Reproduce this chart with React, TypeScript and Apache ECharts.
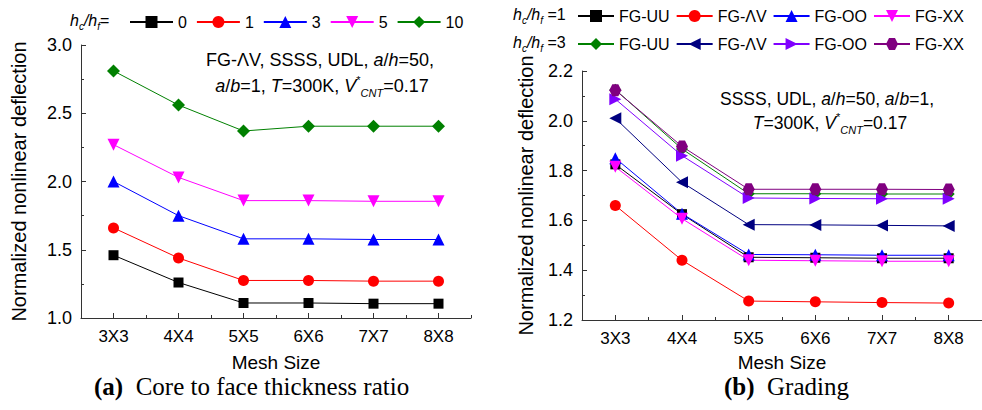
import React, { useEffect, useRef } from "react";
import * as echarts from "echarts";

const categories = ["3X3", "4X4", "5X5", "6X6", "7X7", "8X8"];

// (a) core to face thickness ratio hc/hf
const ratioLabels = ["0", "1", "3", "5", "10"];
const ratio0 = [1.46, 1.26, 1.11, 1.11, 1.105, 1.105];
const ratio1 = [1.66, 1.44, 1.275, 1.275, 1.27, 1.27];
const ratio3 = [2.0, 1.75, 1.58, 1.58, 1.575, 1.575];
const ratio5 = [2.27, 2.03, 1.86, 1.86, 1.855, 1.855];
const ratio10 = [2.81, 2.56, 2.37, 2.405, 2.405, 2.405];

// (b) grading
const gradingLabels = ["FG-UU", "FG-\u039BV", "FG-OO", "FG-XX"];
const hc1UU = [1.825, 1.625, 1.452, 1.45, 1.448, 1.448];
const hc1AV = [1.66, 1.44, 1.276, 1.273, 1.27, 1.268];
const hc1OO = [1.85, 1.627, 1.463, 1.462, 1.46, 1.46];
const hc1XX = [1.815, 1.607, 1.44, 1.438, 1.436, 1.436];
const hc3UU = [2.125, 1.887, 1.707, 1.707, 1.706, 1.706];
const hc3AV = [2.01, 1.753, 1.583, 1.582, 1.58, 1.578];
const hc3OO = [2.087, 1.86, 1.69, 1.688, 1.687, 1.687];
const hc3XX = [2.123, 1.897, 1.725, 1.725, 1.725, 1.724];

const SANS = "Liberation Sans, Arial, sans-serif";
const SERIF = "Liberation Serif, Times New Roman, serif";
const HEX = "path://M-1,0 L-0.5,-0.866 L0.5,-0.866 L1,0 L0.5,0.866 L-0.5,0.866 Z";

type Sty = { color: string; symbol: string; size: number; rotate?: number };

const leftStyles: Sty[] = [
  { color: "#000000", symbol: "rect", size: 10 },
  { color: "#FF0000", symbol: "circle", size: 11 },
  { color: "#0000FF", symbol: "triangle", size: 12 },
  { color: "#FF00FF", symbol: "triangle", size: 12, rotate: 180 },
  { color: "#008000", symbol: "diamond", size: 13 },
];
const hc1Styles: Sty[] = [
  { color: "#000000", symbol: "rect", size: 10 },
  { color: "#FF0000", symbol: "circle", size: 11 },
  { color: "#0000FF", symbol: "triangle", size: 12 },
  { color: "#FF00FF", symbol: "triangle", size: 12, rotate: 180 },
];
const hc3Styles: Sty[] = [
  { color: "#008000", symbol: "diamond", size: 12 },
  { color: "#000080", symbol: "triangle", size: 12, rotate: 90 },
  { color: "#8000FF", symbol: "triangle", size: 12, rotate: -90 },
  { color: "#800080", symbol: HEX, size: 12 },
];

function mkSeries(name: string, data: number[], s: Sty, gi: number) {
  return {
    name,
    type: "line",
    xAxisIndex: gi * 2,
    yAxisIndex: gi,
    data,
    symbol: s.symbol,
    symbolSize: s.size,
    symbolRotate: s.rotate || 0,
    lineStyle: { color: s.color, width: 1 },
    itemStyle: { color: s.color },
    emphasis: { disabled: true },
  };
}

const subRich = {
  i: { fontStyle: "italic", fontSize: 16, fontFamily: SANS, lineHeight: 22, verticalAlign: "middle", fill: "#000" },
  n: { fontSize: 16, fontFamily: SANS, lineHeight: 22, verticalAlign: "middle", fill: "#000" },
  s: { fontStyle: "italic", fontSize: 10, fontFamily: SANS, lineHeight: 10, verticalAlign: "bottom", fill: "#000" },
};

const annRich = (fs: number) => ({
  n: { fontSize: fs, fontFamily: SANS, lineHeight: 24, verticalAlign: "middle", fill: "#000" },
  i: { fontSize: fs, fontFamily: SANS, fontStyle: "italic", lineHeight: 24, verticalAlign: "middle", fill: "#000" },
  sup: { fontSize: 11, fontFamily: SANS, lineHeight: 11, verticalAlign: "top", fill: "#000" },
  sub: { fontSize: 11, fontFamily: SANS, fontStyle: "italic", lineHeight: 11, verticalAlign: "bottom", fill: "#000" },
});

export default function App() {
  const ref = useRef<HTMLDivElement>(null);
  useEffect(() => {
    if (!ref.current) return;
    const chart = echarts.init(ref.current, null, { renderer: "svg" });
    const axisColor = "#333333";
    const xMain = (gi: number, nameGap: number) => ({
      gridIndex: gi,
      type: "category",
      data: categories,
      boundaryGap: true,
      position: "bottom",
      axisLine: { show: true, onZero: false, lineStyle: { color: axisColor, width: 1 } },
      axisTick: { show: true, inside: true, alignWithLabel: true, interval: 0, length: 5, lineStyle: { color: axisColor } },
      axisLabel: { interval: 0, fontSize: 17, color: "#000", fontFamily: SANS, margin: 10 },
      splitLine: { show: false },
      name: "Mesh Size",
      nameLocation: "middle",
      nameGap,
      nameTextStyle: { fontSize: 19, color: "#000", fontFamily: SANS },
    });
    const xMinor = (gi: number) => ({
      gridIndex: gi,
      type: "category",
      data: categories,
      boundaryGap: true,
      position: "bottom",
      axisLine: { show: false, onZero: false },
      axisTick: { show: true, inside: true, alignWithLabel: false, interval: 0, length: 3, lineStyle: { color: axisColor } },
      axisLabel: { show: false },
      splitLine: { show: false },
    });
    const yAx = (gi: number, min: number, max: number, interval: number, nameGap: number) => ({
      gridIndex: gi,
      type: "value",
      min,
      max,
      interval,
      axisLine: { show: true, lineStyle: { color: axisColor, width: 1 } },
      axisTick: { show: true, inside: true, length: 5, lineStyle: { color: axisColor } },
      minorTick: { show: true, splitNumber: 2, length: 3, lineStyle: { color: axisColor } },
      splitLine: { show: false },
      axisLabel: { fontSize: 18, color: "#000", fontFamily: SANS, margin: 9, formatter: (v: number) => v.toFixed(1) },
      name: "Normalized nonlinear deflection",
      nameLocation: "middle",
      nameGap,
      nameTextStyle: { fontSize: 20, color: "#000", fontFamily: SANS },
    });

    const leftData = [ratio0, ratio1, ratio3, ratio5, ratio10];
    const hc1Data = [hc1UU, hc1AV, hc1OO, hc1XX];
    const hc3Data = [hc3UU, hc3AV, hc3OO, hc3XX];

    const series: any[] = [];
    leftData.forEach((d, k) => series.push(mkSeries("a|" + ratioLabels[k], d, leftStyles[k], 0)));
    hc1Data.forEach((d, k) => series.push(mkSeries("b1|" + gradingLabels[k], d, hc1Styles[k], 1)));
    hc3Data.forEach((d, k) => series.push(mkSeries("b3|" + gradingLabels[k], d, hc3Styles[k], 1)));

    const legendBase = {
      orient: "horizontal",
      selectedMode: false,
      itemHeight: 15,
      formatter: (n: string) => n.split("|")[1],
      textStyle: { fontSize: 16, color: "#000", fontFamily: SANS },
    };

    chart.setOption({
      animation: false,
      backgroundColor: "#ffffff",
      grid: [
        { left: 81, top: 45, width: 390, height: 273 },
        { left: 582, top: 71, width: 409, height: 249 },
      ],
      xAxis: [xMain(0, 35), xMinor(0), xMain(1, 33), xMinor(1)],
      yAxis: [yAx(0, 1, 3, 0.5, 52), yAx(1, 1.2, 2.2, 0.2, 46)],
      legend: [
        { ...legendBase, data: ratioLabels.map((l) => "a|" + l), left: 124, top: 9, itemWidth: 43, itemGap: 9 },
        { ...legendBase, data: gradingLabels.map((l) => "b1|" + l), left: 572, top: 3, itemWidth: 36, itemGap: 6 },
        { ...legendBase, data: gradingLabels.map((l) => "b3|" + l), left: 572, top: 31, itemWidth: 36, itemGap: 6 },
      ],
      graphic: [
        {
          type: "text", x: 70, y: 20, silent: true,
          style: { text: "{i|h}{s|c}{i|/h}{s|f}{n|=}", rich: subRich, verticalAlign: "middle", align: "left" },
        },
        {
          type: "text", x: 513, y: 14, silent: true,
          style: { text: "{i|h}{s|c}{i|/h}{s|f}{n| =1}", rich: subRich, verticalAlign: "middle", align: "left" },
        },
        {
          type: "text", x: 513, y: 42, silent: true,
          style: { text: "{i|h}{s|c}{i|/h}{s|f}{n| =3}", rich: subRich, verticalAlign: "middle", align: "left" },
        },
        {
          type: "text", x: 320, y: 60, silent: true,
          style: { text: "{n|FG-\u039BV, SSSS, UDL, }{i|a}{n|/}{i|h}{n|=50,}", rich: annRich(18), verticalAlign: "middle", align: "center" },
        },
        {
          type: "text", x: 322, y: 86, silent: true,
          style: { text: "{i|a}{n|/}{i|b}{n|=1, }{i|T}{n|=300K, }{i|V}{sup|*}{sub|CNT}{n|=0.17}", rich: annRich(18), verticalAlign: "middle", align: "center" },
        },
        {
          type: "text", x: 827, y: 99, silent: true,
          style: { text: "{n|SSSS, UDL, }{i|a}{n|/}{i|h}{n|=50, }{i|a}{n|/}{i|b}{n|=1,}", rich: annRich(17.5), verticalAlign: "middle", align: "center" },
        },
        {
          type: "text", x: 830, y: 123, silent: true,
          style: { text: "{i|T}{n|=300K, }{i|V}{sup|*}{sub|CNT}{n|=0.17}", rich: annRich(17.5), verticalAlign: "middle", align: "center" },
        },
        {
          type: "text", x: 94, y: 386, silent: true,
          style: {
            text: "{b|(a)}{t|  Core to face thickness ratio}",
            rich: {
              b: { fontFamily: SERIF, fontWeight: "bold", fontSize: 25, fill: "#000" },
              t: { fontFamily: SERIF, fontSize: 25, fill: "#000" },
            },
            verticalAlign: "middle",
            align: "left",
          },
        },
        {
          type: "text", x: 724, y: 386, silent: true,
          style: {
            text: "{b|(b)}{t|  Grading}",
            rich: {
              b: { fontFamily: SERIF, fontWeight: "bold", fontSize: 25, fill: "#000" },
              t: { fontFamily: SERIF, fontSize: 25, fill: "#000" },
            },
            verticalAlign: "middle",
            align: "left",
          },
        },
      ],
      series,
    });
    return () => chart.dispose();
  }, []);
  return (
    <div
      ref={ref}
      style={{ position: "fixed", left: 0, top: 0, width: 982, height: 410, background: "#fff" }}
    />
  );
}
